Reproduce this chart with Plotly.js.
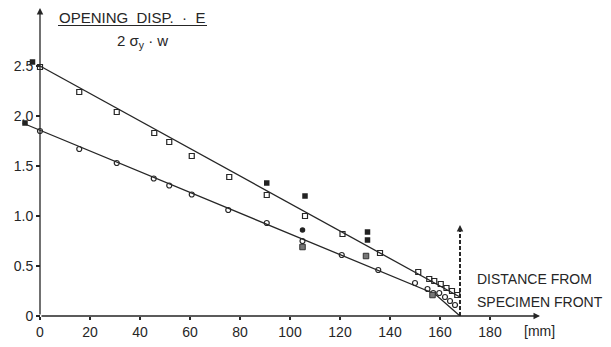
<!DOCTYPE html>
<html>
<head>
<meta charset="utf-8">
<script src="https://cdn.plot.ly/plotly-3.0.1.min.js"></script>
<style>html,body{margin:0;padding:0;background:#fff;}#chart{width:611px;height:347px;}</style>
</head>
<body>
<div id="chart"></div>
<script>
// ---- data ----
const upperX = [0, 15.7, 30.7, 45.7, 51.7, 60.7, 75.7, 90.7, 106, 121, 136, 151.3, 155.7, 157.7, 160.3, 162.6, 164.8, 166.9];
const upperY = [2.49, 2.24, 2.04, 1.83, 1.74, 1.60, 1.39, 1.21, 1.00, 0.82, 0.63, 0.44, 0.37, 0.35, 0.32, 0.28, 0.25, 0.21];
const lowerX = [0, 15.7, 30.7, 45.5, 51.7, 60.7, 75.3, 90.7, 105, 120.7, 135.3, 150, 155, 157.3, 159.7, 162, 164, 166];
const lowerY = [1.85, 1.67, 1.53, 1.375, 1.305, 1.215, 1.06, 0.93, 0.75, 0.61, 0.46, 0.33, 0.27, 0.23, 0.23, 0.19, 0.15, 0.11];
const upperLineX = [0, 168];
const upperLineY = [2.50, 0.19];
const lowerLineX = [-7, 158, 168];
const lowerLineY = [1.93, 0.22, 0.0];
const filledSqX = [-3, 90.7, 106, 131, 131, -6];
const filledSqY = [2.54, 1.33, 1.20, 0.84, 0.76, 1.93];
const filledCircX = [105];
const filledCircY = [0.86];
const greyX = [105, 130.4, 157];
const greyY = [0.69, 0.60, 0.21];
const frontX = 168;
const frontTop = 0.91;
const xTickVals = [0, 20, 40, 60, 80, 100, 120, 140, 160, 180];
const xTickText = ['0', '20', '40', '60', '80', '100', '120', '140', '160', '180'];
const yTickVals = [0, 0.5, 1.0, 1.5, 2.0, 2.5];
const yTickText = ['0', '0.5', '1.0', '1.5', '2.0', '2.5'];
const xAxisEnd = 200;
const yAxisEnd = 3.08;

// ---- layout helpers (pixel -> paper) ----
const W = 611, H = 347, ML = 0, MR = 71, MT = 6, MB = 31;
const PW = W - ML - MR, PH = H - MT - MB;
const px = x => (x - ML) / PW;
const py = y => (H - MB - y) / PH;

const ink = '#262626';
const FONT = '"Liberation Sans", Arial, sans-serif';

const traces = [
  {x: upperLineX, y: upperLineY, mode: 'lines', line: {color: ink, width: 1.3}, hoverinfo: 'skip'},
  {x: lowerLineX, y: lowerLineY, mode: 'lines', line: {color: ink, width: 1.3}, hoverinfo: 'skip'},
  {x: [frontX, frontX], y: [0, frontTop - 0.04], mode: 'lines', line: {color: '#111', width: 1.8, dash: '4px,2px'}},
  {x: upperX, y: upperY, mode: 'markers', marker: {symbol: 'square-open', size: 5, color: ink, line: {width: 1.2, color: ink}}},
  {x: lowerX, y: lowerY, mode: 'markers', marker: {symbol: 'circle-open', size: 5, color: ink, line: {width: 1.2, color: ink}}},
  {x: filledSqX, y: filledSqY, mode: 'markers', marker: {symbol: 'square', size: 5.5, color: '#222'}},
  {x: filledCircX, y: filledCircY, mode: 'markers', marker: {symbol: 'circle', size: 5.5, color: '#222'}},
  {x: greyX, y: greyY, mode: 'markers', marker: {symbol: 'square', size: 5.5, color: '#777', line: {width: 1, color: '#333'}}}
];

const arrow = (x, y, ax, ay) => ({
  x: x, y: y, ax: ax, ay: ay, xref: 'x', yref: 'y', axref: 'x', ayref: 'y',
  text: '', showarrow: true, arrowhead: 2, arrowsize: 1, arrowwidth: 1.3, arrowcolor: ink, standoff: 0, startstandoff: 0
});

const txt = (text, x, y, size, xanchor) => ({
  text: text, xref: 'paper', yref: 'paper', x: px(x), y: py(y), xanchor: xanchor || 'center', yanchor: 'middle',
  showarrow: false, font: {family: FONT, size: size, color: ink}
});

const layout = {
  width: W, height: H,
  margin: {l: ML, r: MR, t: MT, b: MB, pad: 0},
  paper_bgcolor: '#fff', plot_bgcolor: '#fff',
  showlegend: false,
  font: {family: FONT, color: ink},
  xaxis: {
    range: [-16, 200], showgrid: false, zeroline: false, showline: false,
    tickmode: 'array', tickvals: xTickVals, ticktext: xTickText,
    ticks: 'outside', ticklen: 3, tickwidth: 1.2, tickcolor: ink,
    tickfont: {family: FONT, size: 14, color: ink}
  },
  yaxis: {
    range: [0, 3.1], showgrid: false, zeroline: false, showline: false,
    anchor: 'free', position: 16 / 216,
    tickmode: 'array', tickvals: yTickVals, ticktext: yTickText,
    ticks: 'outside', ticklen: 4, tickwidth: 1.2, tickcolor: ink,
    tickfont: {family: FONT, size: 14, color: ink}
  },
  shapes: [
    {type: 'line', xref: 'paper', yref: 'paper', x0: px(58), x1: px(207), y0: py(25.5), y1: py(25.5), line: {color: ink, width: 1.2}}
  ],
  annotations: [
    arrow(0, yAxisEnd, 0, 0),
    arrow(xAxisEnd, 0, 0, 0),
    arrow(frontX, frontTop, frontX, frontTop - 0.08),
    txt('OPENING\u00a0\u00a0DISP.\u00a0\u00a0·\u00a0\u00a0E', 132, 17.5, 15),
    txt('2\u00a0σ<sub>y</sub>\u00a0·\u00a0w', 142, 42, 15),
    txt('DISTANCE FROM', 475, 279, 14, 'left'),
    txt('SPECIMEN FRONT', 475, 302, 14, 'left'),
    txt('[mm]', 539, 331, 14)
  ]
};

Plotly.newPlot('chart', traces, layout, {displayModeBar: false, staticPlot: true});
</script>
</body>
</html>
